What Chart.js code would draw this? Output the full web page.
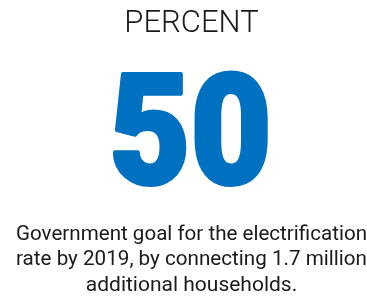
<!DOCTYPE html>
<html>
<head>
<meta charset="utf-8">
<script src="https://cdn.jsdelivr.net/npm/chart.js@4"></script>
<style>
  html, body { margin: 0; padding: 0; background: #fff; }
  #wrap { width: 367px; height: 298px; }
</style>
</head>
<body>
<div id="wrap"><canvas id="statChart"></canvas></div>
<script>
// Data
const labels = ['Electrification goal'];
const values = [50];
const unit = 'PERCENT';
const caption = [
  'Government goal for the electrification',
  'rate by 2019, by connecting 1.7 million',
  'additional households.'
];

// Big number drawn from the dataset value
const bigNumber = {
  id: 'bigNumber',
  afterDatasetsDraw(chart) {
    const ctx = chart.ctx;
    const area = chart.chartArea;
    const text = String(chart.data.datasets[0].data[0]);
    ctx.save();
    ctx.font = '900 154px Roboto';
    ctx.fillStyle = '#0070c0';
    ctx.strokeStyle = '#0070c0';
    ctx.lineWidth = 4;
    ctx.lineJoin = 'round';
    ctx.textAlign = 'center';
    ctx.textBaseline = 'alphabetic';
    const cx = (area.left + area.right) / 2;
    ctx.translate(cx - 1, 184);
    ctx.scale(0.91, 1);
    ctx.fillText(text, 0, 0);
    ctx.strokeText(text, 0, 0);
    ctx.restore();
  }
};

Chart.defaults.font.family = 'Roboto';

new Chart(document.getElementById('statChart'), {
  type: 'bar',
  data: {
    labels: labels,
    datasets: [{
      data: values,
      backgroundColor: 'rgba(0,0,0,0)',
      borderWidth: 0
    }]
  },
  options: {
    responsive: true,
    maintainAspectRatio: false,
    animation: false,
    layout: { padding: { left: 16 } },
    scales: {
      x: { display: false },
      y: { display: false, beginAtZero: true }
    },
    plugins: {
      legend: { display: false },
      tooltip: { enabled: false },
      title: {
        display: true,
        fullSize: false,
        text: unit,
        color: '#1a1a1a',
        font: { size: 31, weight: '300' },
        padding: { top: 6, bottom: 0 }
      },
      subtitle: {
        display: true,
        position: 'bottom',
        text: caption,
        color: '#1a1a1a',
        font: { size: 21, weight: '400', lineHeight: 1.21 },
        padding: { top: 0, bottom: 0 }
      }
    }
  },
  plugins: [bigNumber]
});
</script>
</body>
</html>
